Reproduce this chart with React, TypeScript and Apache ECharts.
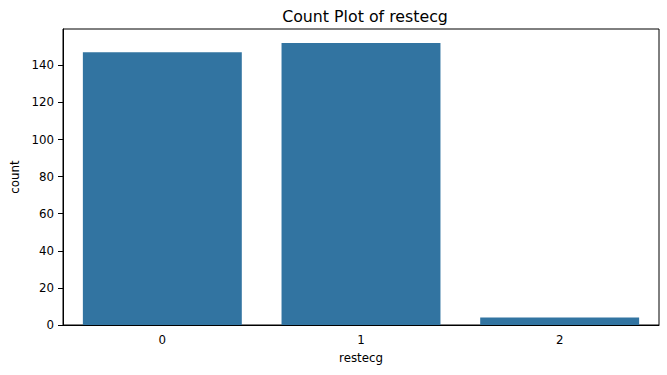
import React, { useEffect, useRef } from "react";
import * as echarts from "echarts";

const categories = ["0", "1", "2"];
const counts = [147, 152, 4];
const yTicks = [0, 20, 40, 60, 80, 100, 120, 140];
const yMax = 159.6;

export default function App() {
  const ref = useRef<HTMLDivElement>(null);
  useEffect(() => {
    if (!ref.current) return;
    const chart = echarts.init(ref.current, null, { renderer: "svg" });
    const font = "DejaVu Sans";
    chart.setOption({
      animation: false,
      backgroundColor: "#ffffff",
      title: {
        text: "Count Plot of restecg",
        left: 360,
        top: 3,
        textAlign: "center",
        textStyle: { fontFamily: font, fontSize: 15.8, fontWeight: "normal", color: "#000" },
      },
      grid: {
        left: 63,
        top: 29,
        width: 596,
        height: 296,
        show: true,
        borderColor: "#000",
        borderWidth: 1,
        backgroundColor: "transparent",
      },
      xAxis: {
        type: "category",
        data: categories,
        name: "restecg",
        nameLocation: "middle",
        nameGap: 27,
        nameTextStyle: { fontFamily: font, fontSize: 11.8, color: "#000" },
        axisLine: { lineStyle: { color: "#000", width: 1 } },
        axisTick: { alignWithLabel: true, length: 5, lineStyle: { color: "#000" } },
        axisLabel: { fontFamily: font, fontSize: 11.8, color: "#000", margin: 9 },
        splitLine: { show: false },
      },
      yAxis: {
        type: "value",
        min: 0,
        max: yMax,
        name: "count",
        nameLocation: "middle",
        nameGap: 37,
        nameTextStyle: { fontFamily: font, fontSize: 11.8, color: "#000" },
        axisLine: { show: true, lineStyle: { color: "#000", width: 1 } },
        axisTick: { show: true, length: 5, lineStyle: { color: "#000" }, customValues: yTicks },
        axisLabel: { fontFamily: font, fontSize: 11.8, color: "#000", margin: 9, customValues: yTicks },
        splitLine: { show: false },
      },
      series: [
        {
          type: "bar",
          data: counts,
          barWidth: "80%",
          itemStyle: { color: "#3274a1" },
        },
      ],
    });
    return () => chart.dispose();
  }, []);
  return <div ref={ref} style={{ width: 667, height: 375, position: "absolute", left: 0, top: 0 }} />;
}
